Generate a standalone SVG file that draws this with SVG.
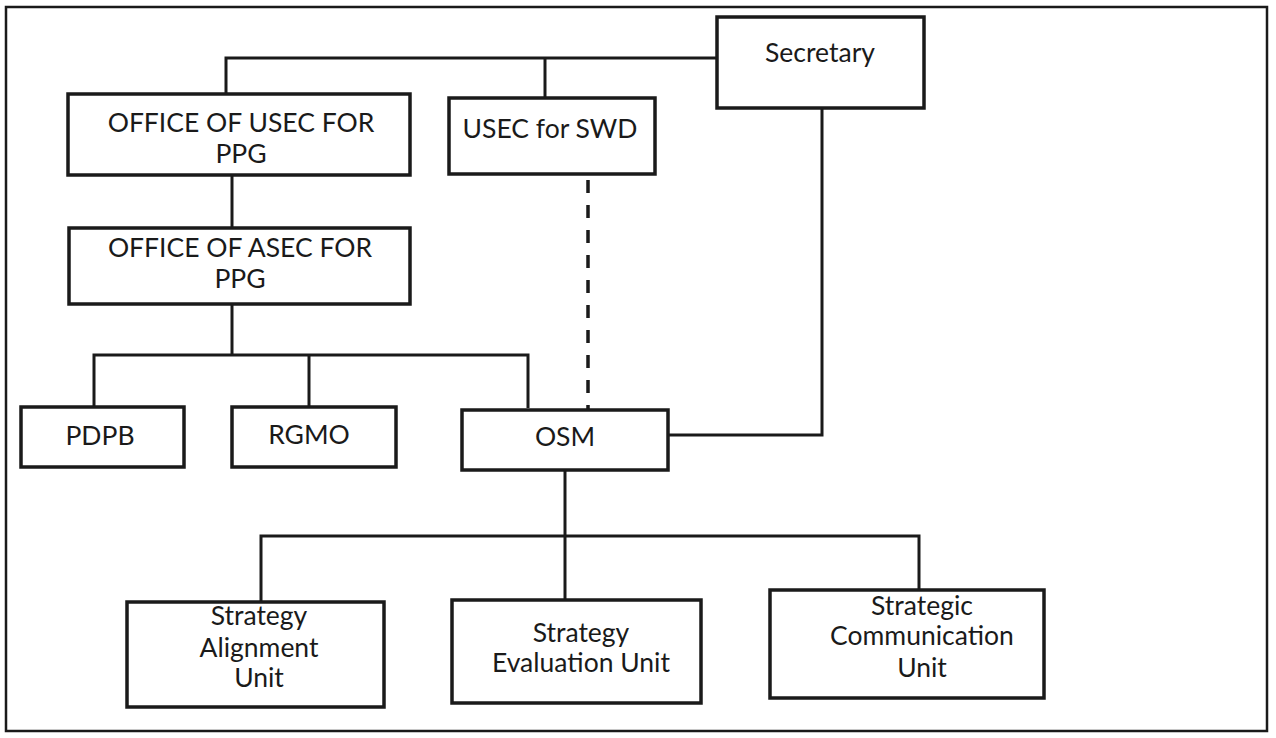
<svg xmlns="http://www.w3.org/2000/svg" width="1276" height="738" viewBox="0 0 1276 738">
<style>
.box{fill:#fff;stroke:#1a1a1a;stroke-width:3.5}
.ln{fill:none;stroke:#1a1a1a;stroke-width:3}
.dash{fill:none;stroke:#1a1a1a;stroke-width:3.5;stroke-dasharray:13 12}
text{font-family:Lato,"Open Sans","Liberation Sans",sans-serif;font-size:26.5px;fill:#1a1a1a;text-anchor:middle}
</style>
<rect x="0" y="0" width="1276" height="738" fill="#fff"/>
<rect x="6" y="7" width="1261" height="724" fill="none" stroke="#1a1a1a" stroke-width="2.5"/>
<g id="connectors">
<polyline class="ln" points="226,94 226,58 717,58"/>
<line class="ln" x1="545" y1="58" x2="545" y2="98"/>
<line class="ln" x1="232" y1="175" x2="232" y2="228"/>
<line class="ln" x1="232" y1="304" x2="232" y2="355"/>
<polyline class="ln" points="94,407 94,355 528,355 528,408"/>
<line class="ln" x1="309" y1="355" x2="309" y2="407"/>
<polyline class="ln" points="822,108 822,435 668,435"/>
<line class="dash" x1="588" y1="180" x2="588" y2="410"/>
<line class="ln" x1="565" y1="470" x2="565" y2="600"/>
<polyline class="ln" points="261,602 261,536 919,536 919,590"/>
</g>
<g id="secretary"><rect class="box" x="717" y="17" width="207" height="91"/><text x="820" y="62">Secretary</text></g>
<g id="usec-ppg"><rect class="box" x="68" y="94" width="342" height="81"/><text x="241" y="132">OFFICE OF USEC FOR</text><text x="241" y="163">PPG</text></g>
<g id="usec-swd"><rect class="box" x="449" y="98" width="206" height="76"/><text x="550" y="138">USEC for SWD</text></g>
<g id="asec-ppg"><rect class="box" x="69" y="228" width="341" height="76"/><text x="240" y="257">OFFICE OF ASEC FOR</text><text x="240" y="288">PPG</text></g>
<g id="pdpb"><rect class="box" x="21" y="407" width="163" height="60"/><text x="100" y="445">PDPB</text></g>
<g id="rgmo"><rect class="box" x="232" y="407" width="164" height="60"/><text x="309" y="444">RGMO</text></g>
<g id="osm"><rect class="box" x="462" y="410" width="206" height="60"/><text x="565" y="446">OSM</text></g>
<g id="sau"><rect class="box" x="127" y="602" width="257" height="105"/><text x="259" y="625">Strategy</text><text x="259" y="657">Alignment</text><text x="259" y="687">Unit</text></g>
<g id="seu"><rect class="box" x="452" y="600" width="249" height="103"/><text x="581" y="642">Strategy</text><text x="581" y="672">Evaluation Unit</text></g>
<g id="scu"><rect class="box" x="770" y="590" width="274" height="108"/><text x="922" y="615">Strategic</text><text x="922" y="645">Communication</text><text x="922" y="677">Unit</text></g>
</svg>
